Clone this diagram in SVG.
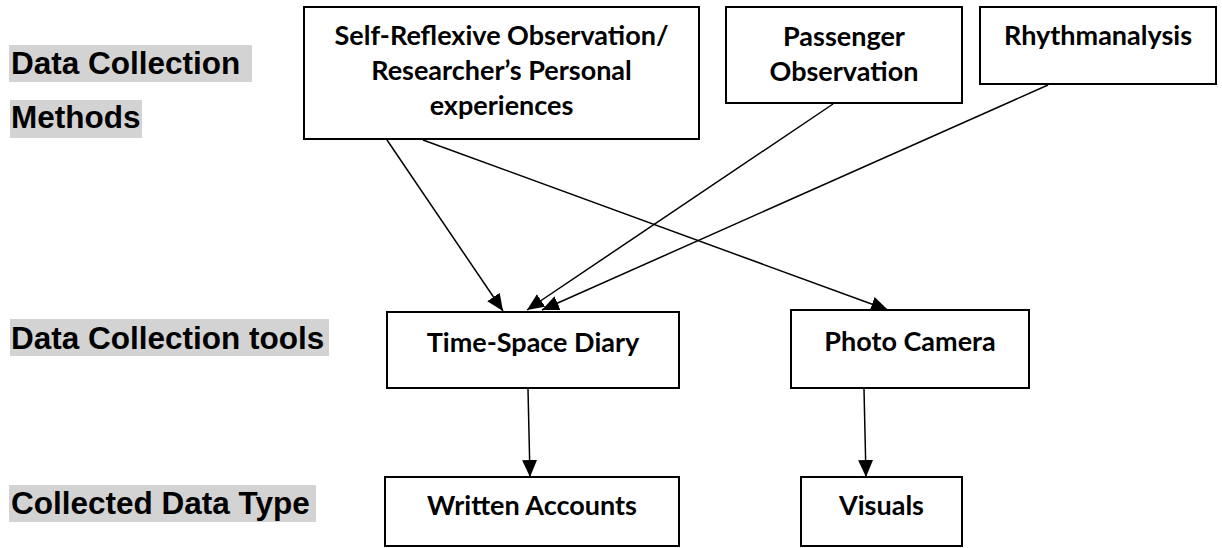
<svg xmlns="http://www.w3.org/2000/svg" width="1222" height="548" viewBox="0 0 1222 548">
<style>
.bg{fill:#d3d3d3}
.lbl{font-family:"Liberation Sans",Arial,sans-serif;font-weight:bold;font-size:31.5px;fill:#000}
.box{fill:#fff;stroke:#000;stroke-width:2}
.t{font-family:Lato,"Open Sans",sans-serif;font-weight:bold;font-size:27px;fill:#000;text-anchor:middle}
.c{stroke:#000;stroke-width:1.5;fill:none;marker-end:url(#ah)}
</style>
<defs>
<marker id="ah" markerUnits="userSpaceOnUse" markerWidth="18" markerHeight="16" refX="17" refY="7.5" orient="auto">
<path d="M0,0 L17,7.5 L0,15 Z" fill="#000"/>
</marker>
</defs>
<rect width="1222" height="548" fill="#fff"/>
<g id="labels">
<rect class="bg" x="9" y="45" width="243" height="37"/>
<text class="lbl" x="11" y="74">Data Collection</text>
<rect class="bg" x="10" y="100" width="132" height="38"/>
<text class="lbl" x="11" y="128">Methods</text>
<rect class="bg" x="10" y="319" width="319" height="37"/>
<text class="lbl" x="11" y="349">Data Collection tools</text>
<rect class="bg" x="9" y="485" width="307" height="37"/>
<text class="lbl" x="11" y="514">Collected Data Type</text>
</g>
<g id="connectors">
<line class="c" x1="387" y1="140" x2="503" y2="311"/>
<line class="c" x1="423" y1="140" x2="888" y2="310"/>
<line class="c" x1="833" y1="104" x2="527" y2="310"/>
<line class="c" x1="1048" y1="85" x2="542" y2="310"/>
<line class="c" x1="528" y1="389" x2="530" y2="477"/>
<line class="c" x1="864" y1="389" x2="866" y2="477"/>
</g>
<g id="self">
<rect class="box" x="304" y="7" width="395" height="132"/>
<text class="t" x="501.5" y="45">Self-Reflexive Observation/</text>
<text class="t" x="501.5" y="80">Researcher’s Personal</text>
<text class="t" x="501.5" y="115">experiences</text>
</g>
<g id="passenger">
<rect class="box" x="726" y="7" width="236" height="96"/>
<text class="t" x="844" y="46">Passenger</text>
<text class="t" x="844" y="81">Observation</text>
</g>
<g id="rhythm">
<rect class="box" x="980" y="7" width="236" height="77"/>
<text class="t" x="1098" y="45">Rhythmanalysis</text>
</g>
<g id="timespace">
<rect class="box" x="387" y="312" width="292" height="76"/>
<text class="t" x="533" y="352">Time-Space Diary</text>
</g>
<g id="photo">
<rect class="box" x="791" y="310" width="238" height="78"/>
<text class="t" x="910" y="351">Photo Camera</text>
</g>
<g id="written">
<rect class="box" x="385" y="477" width="294" height="69"/>
<text class="t" x="532" y="515">Written Accounts</text>
</g>
<g id="visuals">
<rect class="box" x="801" y="477" width="161" height="69"/>
<text class="t" x="881.5" y="515">Visuals</text>
</g>
</svg>
